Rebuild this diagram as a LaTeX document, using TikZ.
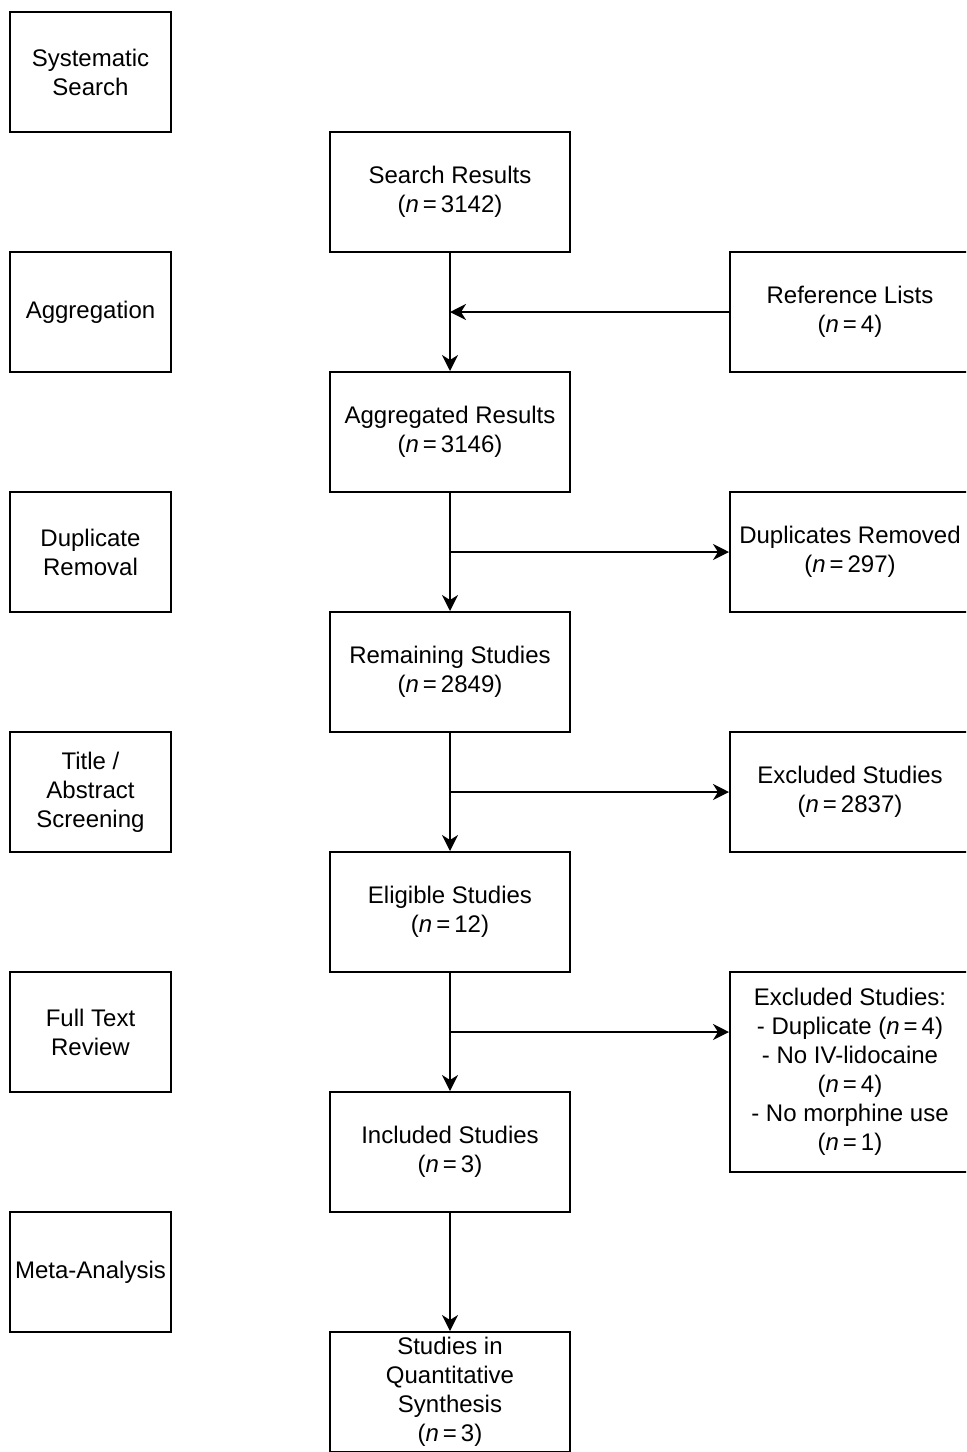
\documentclass[tikz,border=0pt]{standalone}
\usepackage{fontspec}
\setmainfont{Liberation Sans}
\usepackage{tikz}
\usetikzlibrary{arrows.meta,positioning}
\newcommand{\nn}[1]{(\textit{n}\,=\,#1)}

\begin{document}
\begin{tikzpicture}[
  x=0.5pt, y=-0.5pt,
  node distance=59pt,
  phase/.style={
    rectangle,
    draw=black,
    line width=1pt,
    minimum width=80.5pt,
    minimum height=60pt,
    inner sep=0pt,
    align=center,
    font=\fontsize{12pt}{14.5pt}\selectfont
  },
  stage/.style={
    phase,
    minimum width=120pt
  },
  arrow/.style={-{Stealth[length=8pt,width=8pt,inset=2.5pt]}, line width=1pt}
]

\useasboundingbox (0,0) rectangle (966,1452);
\clip (0,0) rectangle (966,1452);

% phases on the left
\node[phase] (search_ph) at (90.5,72) {Systematic\\Search};
\node[phase, below=of search_ph] (agg_ph) {Aggregation};
\node[phase, below=of agg_ph] (dup_ph) {Duplicate\\Removal};
\node[phase, below=of dup_ph] (title_ph) {Title /\\Abstract\\Screening};
\node[phase, below=of title_ph] (full_ph) {Full Text\\Review};
\node[phase, below=of full_ph] (meta_ph) {Meta-Analysis};

% main flow
\node[stage] (search) at (450,192) {Search Results\\\nn{3142}};
\node[stage, below=of search] (agg) {Aggregated Results\\\nn{3146}};
\node[stage, below=of agg] (remain) {Remaining Studies\\\nn{2849}};
\node[stage, below=of remain] (eligible) {Eligible Studies\\\nn{12}};
\node[stage, below=of eligible] (included) {Included Studies\\\nn{3}};
\node[stage, below=of included] (quant) {Studies in\\Quantitative\\Synthesis\\\nn{3}};

% side boxes
\node[stage] (reflist) at (850,312) {Reference Lists\\\nn{4}};
\node[stage] (dupes) at (850,552) {Duplicates Removed\\\nn{297}};
\node[stage] (excl) at (850,792) {Excluded Studies\\\nn{2837}};
\node[stage, minimum height=100pt] (excl_full) at (850,1072) {Excluded Studies:\\- Duplicate \nn{4}\\- No IV-lidocaine\\\nn{4}\\- No morphine use\\\nn{1}};

\draw[arrow] (search) -- (agg);
\draw[arrow] (agg) -- (remain);
\draw[arrow] (remain) -- (eligible);
\draw[arrow] (eligible) -- (included);
\draw[arrow] (included) -- (quant);

\draw[arrow] (reflist.west) -- (reflist.west -| search.south);
\draw[arrow] (agg.south |- dupes.west) -- (dupes.west);
\draw[arrow] (remain.south |- excl.west) -- (excl.west);
\draw[arrow] (eligible.south |- full_ph.east) -- (full_ph.east -| excl_full.west);

\end{tikzpicture}
\end{document}
